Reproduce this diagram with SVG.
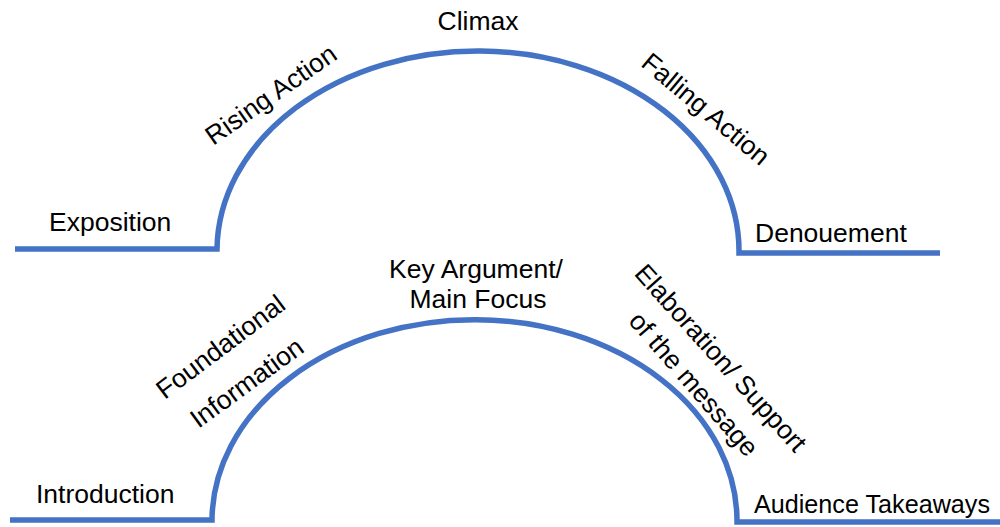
<svg xmlns="http://www.w3.org/2000/svg" width="1000" height="527" viewBox="0 0 1000 527">
<style>
.arc{fill:none;stroke:#4472C4;stroke-width:5.5;stroke-linejoin:miter}
.t{font-family:"Liberation Sans",Arial,sans-serif;font-size:26.5px;fill:#000}
.m{text-anchor:middle}
</style>
<rect width="1000" height="527" fill="#fff"/>
<g id="connectors">
<path class="arc" d="M15,249 H217 A261,200 0 0 1 739,253 H940"/>
<path class="arc" d="M10,520 H212 A262,201 0 0 1 737,522 H1000"/>
</g>
<g id="exposition"><text class="t" x="49" y="231">Exposition</text></g>
<g id="rising-action"><text class="t m" transform="translate(276,102) rotate(-35)">Rising Action</text></g>
<g id="climax"><text class="t m" x="478" y="30">Climax</text></g>
<g id="falling-action"><text class="t m" transform="translate(700,116) rotate(40)">Falling Action</text></g>
<g id="denouement"><text class="t" x="755" y="242">Denouement</text></g>
<g id="introduction"><text class="t" x="36" y="503">Introduction</text></g>
<g id="foundational-information">
<text class="t m" transform="translate(226,354) rotate(-37)">Foundational</text>
<text class="t m" transform="translate(252,390) rotate(-36)">Information</text>
</g>
<g id="key-argument">
<text class="t m" x="476" y="278">Key Argument/</text>
<text class="t m" x="478" y="308">Main Focus</text>
</g>
<g id="elaboration">
<text class="t m" transform="translate(714,364) rotate(48)">Elaboration/ Support</text>
<text class="t m" transform="translate(687,390) rotate(49)">of the message</text>
</g>
<g id="audience-takeaways"><text class="t" x="754" y="513" style="font-size:25px" textLength="236" lengthAdjust="spacingAndGlyphs">Audience Takeaways</text></g>
</svg>
